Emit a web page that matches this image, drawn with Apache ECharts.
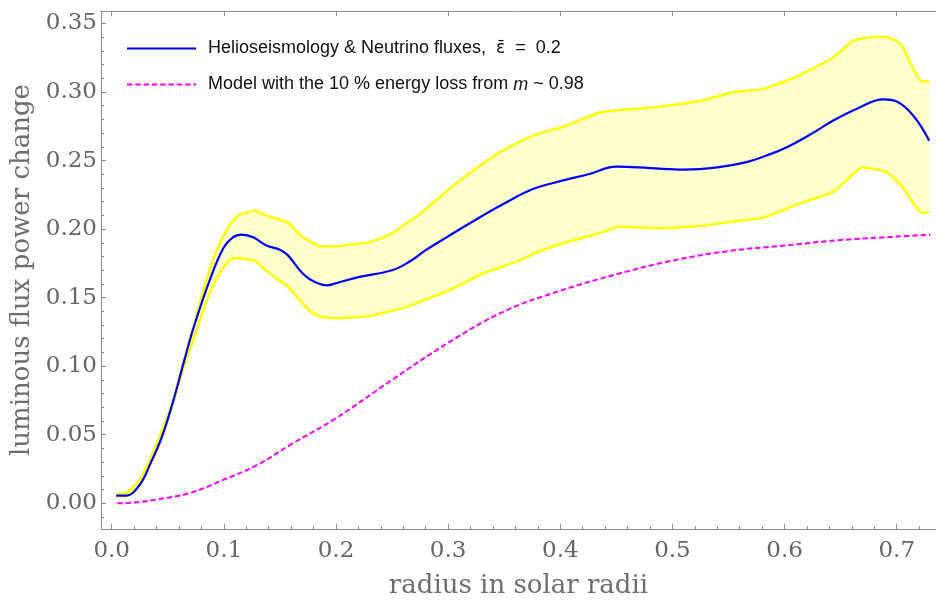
<!DOCTYPE html>
<html>
<head>
<meta charset="utf-8">
<script src="https://cdn.jsdelivr.net/npm/echarts@6/dist/echarts.min.js"></script>
<style>
html,body{margin:0;padding:0;background:#fff;}
#chart{width:936px;height:604px;}
</style>
</head>
<body>
<div id="chart"></div>
<script>
// ---- data ----
const bandX = [0.004,0.013,0.025,0.034,0.045,0.055,0.064,0.074,0.080,0.088,0.097,0.106,0.114,0.120,0.128,0.135,0.147,0.157,0.168,0.177,0.186,0.200,0.215,0.230,0.248,0.266,0.275,0.302,0.328,0.346,0.364,0.382,0.404,0.435,0.453,0.489,0.528,0.554,0.581,0.608,0.643,0.661,0.669,0.679,0.691,0.704,0.722,0.729];
const bandUpper = [0.0067,0.0075,0.0172,0.0316,0.0533,0.0755,0.103,0.132,0.150,0.172,0.191,0.2041,0.2106,0.2119,0.2138,0.2106,0.2077,0.2049,0.1957,0.1909,0.1875,0.1875,0.1890,0.1905,0.1960,0.2060,0.2110,0.2300,0.2460,0.2560,0.2640,0.2700,0.2750,0.2850,0.2869,0.2893,0.2941,0.2999,0.3023,0.3103,0.3248,0.3375,0.3390,0.3404,0.3404,0.3344,0.3079,0.3079];
const bandLower = [0.0055,0.0050,0.0130,0.0275,0.0485,0.0740,0.099,0.122,0.137,0.1547,0.169,0.178,0.1788,0.1780,0.1768,0.1715,0.164,0.1583,0.148,0.140,0.136,0.1350,0.1355,0.1365,0.1400,0.1440,0.1470,0.1556,0.1665,0.1720,0.1773,0.1840,0.1900,0.1970,0.2017,0.2005,0.2025,0.2055,0.2082,0.2170,0.2271,0.2400,0.2452,0.2440,0.2415,0.2319,0.2121,0.2121];

const heliosX = [0.004,0.013,0.025,0.034,0.045,0.055,0.064,0.073,0.088,0.0995,0.108,0.116,0.126,0.138,0.150,0.157,0.171,0.182,0.192,0.200,0.220,0.250,0.265,0.280,0.300,0.325,0.350,0.375,0.400,0.425,0.450,0.480,0.510,0.540,0.566,0.585,0.602,0.625,0.643,0.665,0.688,0.700,0.715,0.729];
const heliosY = [0.0056,0.0056,0.0135,0.028,0.049,0.075,0.102,0.128,0.164,0.186,0.194,0.196,0.194,0.188,0.185,0.181,0.167,0.161,0.159,0.1605,0.165,0.170,0.176,0.1846,0.1947,0.207,0.2186,0.229,0.235,0.240,0.2455,0.2445,0.2434,0.245,0.2488,0.254,0.2597,0.270,0.279,0.288,0.2946,0.293,0.2825,0.2644];

const modelX = [0.005,0.02,0.04,0.07,0.10,0.13,0.16,0.20,0.25,0.30,0.35,0.40,0.45,0.50,0.55,0.60,0.65,0.70,0.73];
const modelY = [0,0.0005,0.0027,0.0075,0.0172,0.028,0.043,0.062,0.09,0.117,0.14,0.155,0.167,0.177,0.184,0.188,0.192,0.1945,0.196];

const xMajorTicks = [0,0.1,0.2,0.3,0.4,0.5,0.6,0.7];
const xMinorTicks = [0.02,0.04,0.06,0.08,0.12,0.14,0.16,0.18,0.22,0.24,0.26,0.28,0.32,0.34,0.36,0.38,0.42,0.44,0.46,0.48,0.52,0.54,0.56,0.58,0.62,0.64,0.66,0.68,0.72];
const yMajorTicks = [0,0.05,0.10,0.15,0.20,0.25,0.30,0.35];
const yMinorTicks = [-0.01,0.01,0.02,0.03,0.04,0.06,0.07,0.08,0.09,0.11,0.12,0.13,0.14,0.16,0.17,0.18,0.19,0.21,0.22,0.23,0.24,0.26,0.27,0.28,0.29,0.31,0.32,0.33,0.34];

const heliosName = 'Helioseismology & Neutrino fluxes,  \u03B5\u0304 = 0.2';
const modelName = 'Model with the 10 % energy loss from m ~ 0.98';
const xTitle = 'radius in solar radii';
const yTitle = 'luminous flux power change';

// ---- build ----
const zip = (xs, ys) => xs.map((x, i) => [x, ys[i]]);
const X_MIN = -0.00954, X_MAX = 0.735, Y_MIN = -0.0188, Y_MAX = 0.3591;
const frame = '#8c8c8c';
const tickText = '#666666';
const serif = 'DejaVu Serif';
const legendFont = 18;

function xAx(extra) {
  return Object.assign({
    type: 'value', min: X_MIN, max: X_MAX, gridIndex: 0,
    splitLine: {show: false},
    axisLine: {show: true, onZero: false, lineStyle: {color: frame, width: 1}},
    axisTick: {show: false},
    axisLabel: {show: false}
  }, extra);
}
function yAx(extra) {
  return Object.assign({
    type: 'value', min: Y_MIN, max: Y_MAX, gridIndex: 0,
    splitLine: {show: false},
    axisLine: {show: true, onZero: false, lineStyle: {color: frame, width: 1}},
    axisTick: {show: false},
    axisLabel: {show: false}
  }, extra);
}

const chart = echarts.init(document.getElementById('chart'), null, {renderer: 'canvas'});
chart.setOption({
  animation: false,
  backgroundColor: '#ffffff',
  grid: {left: 101, right: 0, top: 11, bottom: 71, containLabel: false},
  legend: {
    orient: 'vertical', left: 126, top: 39.5, padding: 0,
    itemWidth: 69, itemHeight: 14, itemGap: 18,
    itemStyle: {opacity: 0},
    data: [heliosName, modelName],
    formatter: function (name) {
      if (name === modelName) return 'Model with the 10 % energy loss from {i|m} ~ 0.98';
      return 'Helioseismology & Neutrino fluxes,  {e|\u03B5\u0304}  =  0.2';
    },
    textStyle: {
      fontFamily: 'Liberation Sans', fontSize: legendFont, color: '#111', padding: [0, 0, 0, 7],
      rich: {
        i: {fontFamily: 'Liberation Sans', fontSize: legendFont, fontStyle: 'italic', color: '#111'},
        e: {fontFamily: 'DejaVu Sans', fontSize: legendFont - 1, color: '#111'}
      }
    }
  },
  xAxis: [
    xAx({
      position: 'bottom',
      name: xTitle, nameLocation: 'middle', nameGap: 44,
      nameTextStyle: {fontFamily: serif, fontSize: 26, color: '#6e6e6e'},
      axisTick: {show: true, inside: true, length: 5, customValues: xMajorTicks, lineStyle: {color: frame}},
      axisLabel: {show: true, customValues: xMajorTicks, margin: 11, fontFamily: serif, fontSize: 23, color: tickText,
        formatter: v => v.toFixed(1)}
    }),
    xAx({
      position: 'bottom', axisLine: {show: false, onZero: false},
      axisTick: {show: true, inside: true, length: 3, customValues: xMinorTicks, lineStyle: {color: frame}}
    }),
    xAx({
      position: 'top',
      axisTick: {show: true, inside: true, length: 5, customValues: xMajorTicks, lineStyle: {color: frame}}
    })
  ],
  yAxis: [
    yAx({
      position: 'left',
      name: yTitle, nameLocation: 'middle', nameGap: 62,
      nameTextStyle: {fontFamily: serif, fontSize: 26, color: '#6e6e6e'},
      axisTick: {show: true, inside: true, length: 5, customValues: yMajorTicks, lineStyle: {color: frame}},
      axisLabel: {show: true, customValues: yMajorTicks, margin: 4, fontFamily: serif, fontSize: 23, color: tickText,
        formatter: v => v.toFixed(2)}
    }),
    yAx({
      position: 'left', axisLine: {show: false, onZero: false},
      axisTick: {show: true, inside: true, length: 3, customValues: yMinorTicks, lineStyle: {color: frame}}
    })
  ],
  series: [
    {
      name: 'bandFill', type: 'line', xAxisIndex: 0, yAxisIndex: 0, z: 1,
      data: zip(bandX, bandUpper), symbol: 'none', smooth: 0.15,
      lineStyle: {width: 0, opacity: 0},
      areaStyle: {color: '#ffffcc', opacity: 1, origin: 'auto'},
      silent: true
    },
    {
      name: 'bandMask', type: 'line', xAxisIndex: 0, yAxisIndex: 0, z: 1,
      data: zip(bandX, bandLower), symbol: 'none', smooth: 0.15,
      lineStyle: {width: 0, opacity: 0},
      areaStyle: {color: '#ffffff', opacity: 1, origin: 'auto'},
      silent: true
    },
    {
      name: 'upperBound', type: 'line', xAxisIndex: 0, yAxisIndex: 0, z: 3,
      data: zip(bandX, bandUpper), symbol: 'none', smooth: 0.15,
      lineStyle: {color: '#ffff00', width: 2.5}
    },
    {
      name: 'lowerBound', type: 'line', xAxisIndex: 0, yAxisIndex: 0, z: 3,
      data: zip(bandX, bandLower), symbol: 'none', smooth: 0.15,
      lineStyle: {color: '#ffff00', width: 2.5}
    },
    {
      name: modelName, type: 'line', xAxisIndex: 0, yAxisIndex: 0, z: 4,
      data: zip(modelX, modelY), symbol: 'none', smooth: 0.4,
      color: '#ff00ff',
      lineStyle: {color: '#ff00ff', width: 2, type: [5.5, 2.8]}
    },
    {
      name: heliosName, type: 'line', xAxisIndex: 0, yAxisIndex: 0, z: 5,
      data: zip(heliosX, heliosY), symbol: 'none', smooth: 0.4,
      color: '#0000ff',
      lineStyle: {color: '#0000ff', width: 2.2}
    }
  ]
});
</script>
</body>
</html>
